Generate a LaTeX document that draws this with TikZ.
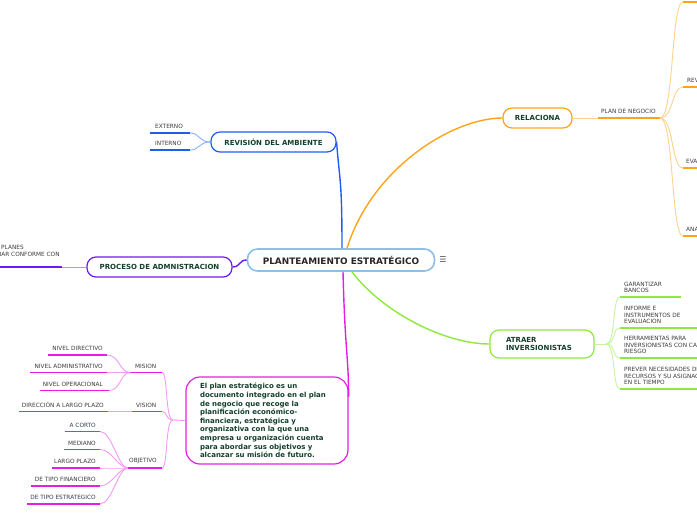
\documentclass[tikz,border=0pt]{standalone}
\usepackage{fontspec}
\setmainfont{DejaVu Sans}
\definecolor{txtg}{HTML}{123F2C}
\definecolor{leafc}{HTML}{3A3A3A}
\definecolor{cenb}{HTML}{8CC0E6}
\definecolor{blueD}{HTML}{1F5CF2}
\definecolor{blueL}{HTML}{8AAEF8}
\definecolor{purD}{HTML}{6B1CF0}
\definecolor{purL}{HTML}{B995F8}
\definecolor{orD}{HTML}{FFA31A}
\definecolor{orL}{HTML}{FFD191}
\definecolor{grD}{HTML}{8FE83C}
\definecolor{grL}{HTML}{C8F3A0}
\definecolor{magD}{HTML}{E51EE5}
\definecolor{magL}{HTML}{F39AF3}
\tikzset{
  mainbox/.style={draw, line width=1.2pt, rounded corners=9pt, inner sep=0pt,
    font=\bfseries\fontsize{7}{8.6}\selectfont, text=txtg},
  central/.style={draw=cenb, line width=1.6pt, rounded corners=10pt, inner sep=0pt,
    minimum width=187pt, minimum height=22pt, font=\bfseries\fontsize{8.9}{10}\selectfont, text=black!85},
  leaf/.style={anchor=south west, inner sep=0pt, align=left, text=leafc,
    font=\fontsize{5.8}{6.7}\selectfont},
  leafr/.style={anchor=south east, inner sep=0pt, text=leafc,
    font=\fontsize{5.8}{6.7}\selectfont},
  conn/.style={line width=1.4pt},
  thin/.style={line width=0.9pt},
  uline/.style={line width=1.5pt}
}
\begin{document}
\begin{tikzpicture}[x=1pt,y=-1pt]
\useasboundingbox (0,0) rectangle (697,520);

% central
\node[central] (c) at (341,260) {PLANTEAMIENTO ESTRATÉGICO};
\node[text=black!70, font=\fontsize{8}{8}\selectfont, inner sep=0pt] (menu) at (443,260) {☰};

% main topics
\node[mainbox, draw=blueD, minimum width=125pt, minimum height=20pt] (rev) at (273.5,142) {REVISIÓN DEL AMBIENTE};
\node[mainbox, draw=purD, minimum width=145pt, minimum height=20pt] (proc) at (159.5,267) {PROCESO DE ADMNISTRACION};
\node[mainbox, draw=orD, minimum width=69pt, minimum height=20pt] (rel) at (537.5,118) {RELACIONA};
\node[mainbox, draw=grD, minimum height=28pt, text width=72pt, inner xsep=16pt, align=left] (atr) at (542,344) {ATRAER\\INVERSIONISTAS};
\node[mainbox, draw=magD, rounded corners=14pt, minimum height=87pt, text width=134pt, inner xsep=14pt, align=left] (big) at (267,420.5)
 {El plan estratégico es un\\documento integrado en el plan\\de negocio que recoge la\\planificación económico-\\financiera, estratégica y\\organizativa con la que una\\empresa u organización cuenta\\para abordar sus objetivos y\\alcanzar su misión de futuro.};

% central connectors
\draw[blueD, conn] ([xshift=1pt]c.north) .. controls +(0,-70) and +(3,40) .. (rev.east);
\draw[orD, conn] ([xshift=6pt]c.north) .. controls +(25,-80) and +(-50,0) .. (rel.west);
\draw[grD, conn] ([xshift=11pt]c.south) .. controls +(30,40) and +(-45,0) .. (atr.west);
\draw[magD, conn] ([xshift=2pt]c.south) .. controls +(2,80) and +(0,-40) .. ([yshift=24pt]big.east);
\draw[purD, conn] (c.west) .. controls +(-8,0) and +(8,0) .. (proc.east);

% ---- Revision del ambiente
\coordinate (e1a) at (150,133); \coordinate (e1b) at (190,133);
\coordinate (e2a) at (150,150); \coordinate (e2b) at (190,150);
\draw[blueL, thin] (rev.west) .. controls +(-12,0) and +(10,0) .. (e1b);
\draw[blueL, thin] (rev.west) .. controls +(-12,0) and +(10,0) .. (e2b);
\draw[blueD, uline] (e1a) -- (e1b);
\draw[blueD, uline] (e2a) -- (e2b);
\node[leaf] (ext) at (155,129) {EXTERNO};
\node[leaf] (int) at (155,146) {INTERNO};

% ---- Proceso de administracion
\coordinate (p1a) at (-2,267); \coordinate (p1b) at (62,267);
\draw[purL, thin] (proc.west) -- (p1b);
\draw[purD, uline] (p1a) -- (p1b);
\node[leaf] (pl1) at (1,249.8) {PLANES};
\node[leaf] (pl2) at (-0.5,256.5) {IAR CONFORME CON};

% ---- Relaciona
\coordinate (pnA) at (598,118); \coordinate (pnB) at (660,118);
\draw[orL, thin] (rel.east) -- (pnA);
\draw[orD, uline] (pnA) -- (pnB);
\node[leaf] (pn) at (601,114) {PLAN DE NEGOCIO};
\coordinate (r0) at (683,2); \coordinate (r1) at (683,87);
\coordinate (r2) at (683,168); \coordinate (r3) at (683,236);
\foreach \r in {r0,r1,r2,r3} {
  \draw[orL, thin] (pnB) .. controls +(14,0) and +(-12,0) .. (\r);
  \draw[orD, uline] (\r) -- ++(20,0);
}
\node[leaf] (rv) at (687,83) {REV};
\node[leaf] (ev) at (686,164) {EVA};
\node[leaf] (an) at (686,232) {ANA};

% ---- Atraer inversionistas
\coordinate (aj) at (606,344);
\draw[grL, thin] (atr.east) -- (aj);
\coordinate (a1) at (620,297); \coordinate (a2) at (620,328);
\coordinate (a3) at (620,358); \coordinate (a4) at (620,389);
\foreach \a in {a1,a2,a3,a4} {
  \draw[grL, thin] (aj) .. controls +(10,0) and +(-8,0) .. (\a);
}
\draw[grD, uline] (a1) -- (681,297);
\draw[grD, uline] (a2) -- (699,328);
\draw[grD, uline] (a3) -- (699,358);
\draw[grD, uline] (a4) -- (699,389);
\node[leaf] (g1) at (624,293) {GARANTIZAR\\BANCOS};
\node[leaf] (g2) at (624,324) {INFORME E\\INSTRUMENTOS DE\\EVALUACION};
\node[leaf] (g3) at (624,354) {HERRAMIENTAS PARA\\INVERSIONISTAS CON CA\\RIESGO};
\node[leaf] (g4) at (624,385) {PREVER NECESIDADES DE\\RECURSOS Y SU ASIGNAC\\EN EL TIEMPO};

% ---- Big box children
\coordinate (bj) at (173,420);
\draw[magL, thin] (big.west) -- (bj);
\coordinate (misA) at (130,372.5); \coordinate (misB) at (162,372.5);
\coordinate (visA) at (132,411.5); \coordinate (visB) at (162,411.5);
\coordinate (objA) at (128,468); \coordinate (objB) at (162,468);
\foreach \b in {misB,visB,objB} {
  \draw[magL, thin] (bj) .. controls +(-8,0) and +(6,0) .. (\b);
}
\draw[magD, uline] (misA) -- (misB);
\draw[magD, uline] (visA) -- (visB);
\draw[magD, uline] (objA) -- (objB);
\node[leaf] (mis) at (135,368.5) {MISION};
\node[leaf] (vis) at (136,407.5) {VISION};
\node[leaf] (obj) at (129,464) {OBJETIVO};

% mision children
\coordinate (n1a) at (48,355); \coordinate (n1b) at (107,355);
\coordinate (n2a) at (30,372.5); \coordinate (n2b) at (107,372.5);
\coordinate (n3a) at (40,390.5); \coordinate (n3b) at (109,390.5);
\foreach \n in {n1b,n2b,n3b} {
  \draw[magL, thin] (\n) .. controls +(12,0) and +(-10,0) .. (misA);
}
\draw[magD, uline] (n1a) -- (n1b);
\draw[magD, uline] (n2a) -- (n2b);
\draw[magD, uline] (n3a) -- (n3b);
\node[leafr] (nd) at (103,351) {NIVEL DIRECTIVO};
\node[leafr] (na) at (103,368.5) {NIVEL ADMINISTRATIVO};
\node[leafr] (no) at (103,386.5) {NIVEL OPERACIONAL};

% vision child
\coordinate (d1a) at (19,411.5); \coordinate (d1b) at (108,411.5);
\draw[magL, thin] (d1b) -- (visA);
\draw[magD, uline] (d1a) -- (d1b);
\node[leafr] (dl) at (104,407.5) {DIRECCIÓN A LARGO PLAZO};

% objetivo children
\coordinate (o1a) at (65,431.5); \coordinate (o1b) at (100,431.5);
\coordinate (o2a) at (64,449.5); \coordinate (o2b) at (100,449.5);
\coordinate (o3a) at (52,468); \coordinate (o3b) at (100,468);
\coordinate (o4a) at (31,486); \coordinate (o4b) at (100,486);
\coordinate (o5a) at (27,504); \coordinate (o5b) at (100,504);
\foreach \o in {o1b,o2b,o3b,o4b,o5b} {
  \draw[magL, thin] (\o) .. controls +(12,0) and +(-10,0) .. (objA);
}
\foreach \o in {1,...,5} {
  \draw[magD, uline] (o\o a) -- (o\o b);
}
\node[leafr] (oc) at (96,427.5) {A CORTO};
\node[leafr] (om) at (96,445.5) {MEDIANO};
\node[leafr] (ol) at (96,464) {LARGO PLAZO};
\node[leafr] (of) at (96,482) {DE TIPO FINANCIERO};
\node[leafr] (oe) at (96,500) {DE TIPO ESTRATEGICO};
\end{tikzpicture}
\end{document}
